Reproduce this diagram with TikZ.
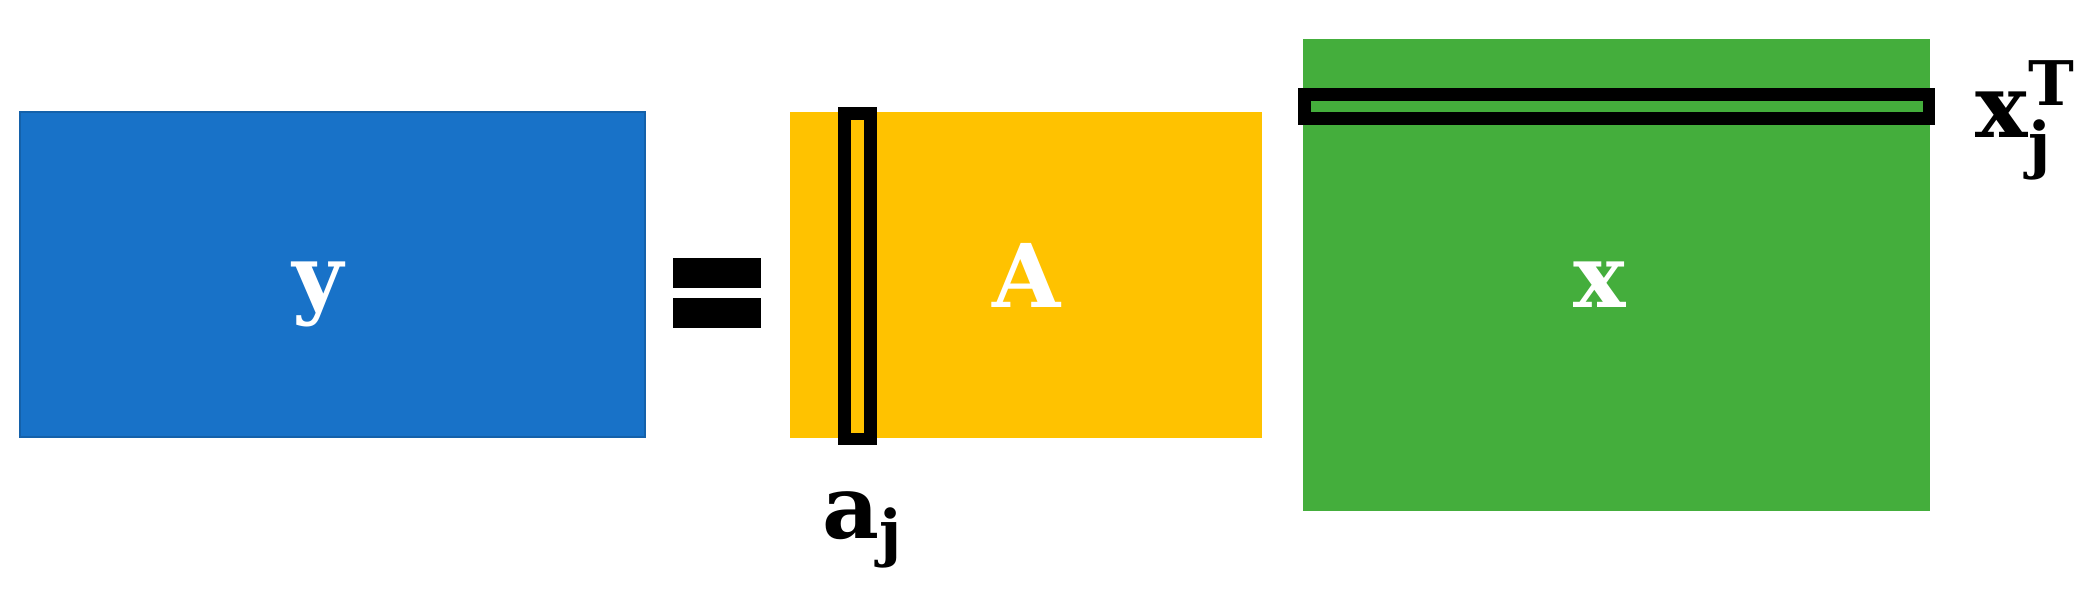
\documentclass[tikz,border=0pt]{standalone}
\usepackage{amsmath}
\usepackage{amssymb}
\usepackage{fontspec}
\setmainfont{DejaVu Serif}
\definecolor{matblue}{RGB}{24,114,200}
\definecolor{matyellow}{RGB}{255,194,0}
\definecolor{matgreen}{RGB}{68,174,60}
\newcommand{\bt}[1]{\text{\bfseries #1}}
\tikzset{
  mat/.style={rectangle, inner sep=0pt},
  matlbl/.style={inner sep=0pt, anchor=base, text=white, font=\fontsize{25}{30}\selectfont\bfseries},
  pick/.style={draw=black, line width=3.6pt},
  lbl/.style={inner sep=0pt, anchor=base west, font=\fontsize{25}{30}\selectfont\bfseries}
}

\begin{document}
\begin{tikzpicture}[x=0.01cm, y=-0.01cm]
            \useasboundingbox (0, 0) rectangle (2090, 599);
            \node[mat, fill=matblue, draw=matblue!85!black, line width=0.4pt, minimum width=6.25cm, minimum height=3.25cm] (Y) at (332.5, 274.5) {};
            \node[matlbl] (ylbl) at (318, 307) {y};
            \fill[black] (673, 258) rectangle (761, 288);
            \fill[black] (673, 298) rectangle (761, 328);
            \node[mat, fill=matyellow, minimum width=4.72cm, minimum height=3.26cm] (A) at (1026, 275) {};
            \node[matlbl] (Albl) at (1027, 307) {A};
            \node[mat, fill=matgreen, minimum width=6.27cm, minimum height=4.72cm] (X) at (1616.5, 275) {};
            \node[matlbl] (xlbl) at (1600, 307) {x};
            \draw[pick] (844.5, 113.5) rectangle (870.5, 439);
            \draw[pick] (1304.5, 94.5) rectangle (1929, 118.5);
            \node[lbl] (aj) at (822, 538) {$\bt{a}_{\bt{j}}$};
            \node[lbl] (xj) at (1975, 137) {$\bt{x}_{\bt{j}}^{\bt{T}}$};
        \end{tikzpicture}
\end{document}
